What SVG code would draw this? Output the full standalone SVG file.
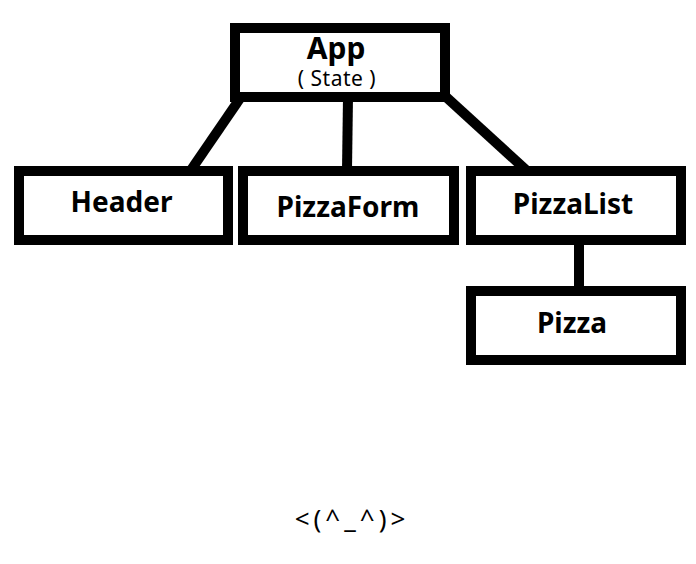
<svg xmlns="http://www.w3.org/2000/svg" width="696" height="564" viewBox="0 0 696 564">
<style>
.box{fill:#fff;stroke:#000;stroke-width:10}
.lbl{font-family:"Noto Sans","Open Sans",sans-serif;font-weight:bold;font-size:28px;fill:#000;text-anchor:middle}
.sub{font-family:"Noto Sans","Open Sans",sans-serif;font-size:21px;fill:#000;text-anchor:middle;letter-spacing:0.5px}
.con{stroke:#000;stroke-width:10;fill:none}
.face{font-family:"Noto Sans","Open Sans",sans-serif;font-size:26px;fill:#000;text-anchor:middle;letter-spacing:4px}
</style>
<rect width="696" height="564" fill="#fff"/>
<g id="connectors">
<line class="con" x1="241" y1="97" x2="191" y2="170"/>
<line class="con" x1="348" y1="97" x2="347" y2="170"/>
<line class="con" x1="445" y1="96" x2="526" y2="170"/>
<line class="con" x1="579" y1="240" x2="579" y2="291"/>
</g>
<g id="app">
<rect class="box" x="235" y="28" width="210" height="69"/>
<text class="lbl" x="336" y="59" style="font-size:30px">App</text>
<text class="sub" x="337" y="86">( State )</text>
</g>
<g id="header">
<rect class="box" x="19" y="171" width="209" height="69"/>
<text class="lbl" x="121.5" y="212">Header</text>
</g>
<g id="pizzaform">
<rect class="box" x="243" y="171" width="211" height="69"/>
<text class="lbl" x="348" y="217">PizzaForm</text>
</g>
<g id="pizzalist">
<rect class="box" x="471" y="171" width="210" height="69"/>
<text class="lbl" x="573" y="214">PizzaList</text>
</g>
<g id="pizza">
<rect class="box" x="471" y="291" width="210" height="69"/>
<text class="lbl" x="572" y="333">Pizza</text>
</g>
<text class="face" x="352" y="528">&lt;(^_^)&gt;</text>
</svg>
